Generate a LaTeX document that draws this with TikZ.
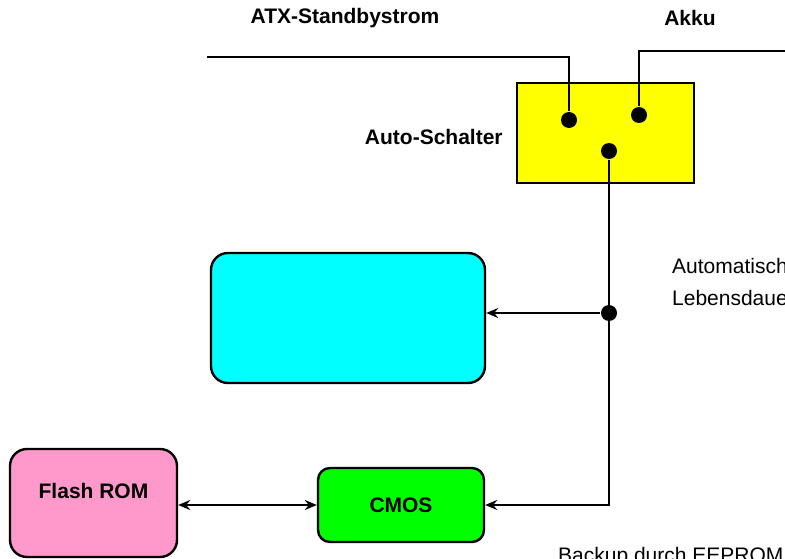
\documentclass[tikz,border=0pt]{standalone}
\usepackage{fontspec}
\setmainfont{Liberation Sans}
\usepackage{tikz}
\usetikzlibrary{arrows.meta,positioning}

\definecolor{pinkrom}{RGB}{255,153,204}
\definecolor{gelb}{RGB}{255,255,0}
\definecolor{tuerkis}{RGB}{0,255,255}
\definecolor{gruen}{RGB}{0,255,0}

\tikzset{
  box/.style={draw, line width=2.4pt, minimum width=#1},
  dot/.style={circle, fill=black, inner sep=0pt, minimum size=16pt},
  lbl/.style={font=\fontsize{21}{25}\selectfont\bfseries, inner sep=0pt},
  note/.style={font=\fontsize{21}{32}\selectfont, inner sep=0pt, align=left}
}

\begin{document}
\begin{tikzpicture}[x=1pt, y=-1pt, line width=2.3pt,
    >={Stealth[length=12pt, width=10pt, inset=4pt]}]
    \useasboundingbox (0,0) rectangle (785,559);
    \clip (0,0) rectangle (785,559);

    % switch and its contacts
    \node[box=177pt, minimum height=100pt, fill=gelb] (schalter) at (605.5,133) {};
    \node[dot] (kontaktA) at (569,120) {};
    \node[dot] (kontaktB) at (639,115) {};
    \node[dot] (kontaktC) at (609,151) {};
    \node[dot] (abzweig) at (609,313) {};

    % blocks
    \node[box=274pt, minimum height=130pt, fill=tuerkis, rounded corners=17pt] (speicher) at (348,318) {};
    \node[box=167pt, minimum height=108pt, fill=pinkrom, rounded corners=17pt] (flash) at (93.5,503) {};
    \node[box=166pt, minimum height=74pt, fill=gruen, rounded corners=12pt, lbl] (cmos) at (401,505) {CMOS};
    \node[lbl, below=34pt of flash.north] (flashtext) {Flash ROM};

    % supply inputs
    \coordinate (atx) at (207,57);
    \coordinate (akku) at (790,51);
    \draw (atx) -| (kontaktA);
    \draw (akku) -| (kontaktB);

    % outputs
    \draw[->] (kontaktC) |- (cmos.east);
    \draw[->] (abzweig) -- (abzweig -| speicher.east);
    \draw[<->] (flash.east |- cmos.east) -- (cmos.west);

    % texts
    \node[lbl] (atxtext) at (345,18) {ATX-Standbystrom};
    \node[lbl] (akkutext) at (690,18) {Akku};
    \node[lbl, left=12pt of schalter, yshift=-4pt] (schaltertext) {Auto-Schalter};
    \node[note, anchor=west] (autotext) at (671,282) {Automatisch\\Lebensdaue};
    \node[note, anchor=base west] (backuptext) at (557,562) {Backup durch EEPROM};
\end{tikzpicture}
\end{document}
